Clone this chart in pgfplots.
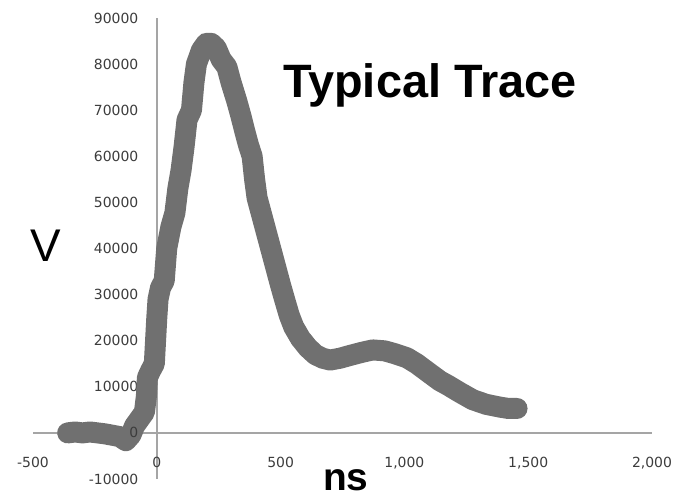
\documentclass[border=0pt]{standalone}
\usepackage{pgfplots}
\pgfplotsset{compat=1.18}
\usepackage{fontspec}
\setmainfont{Liberation Sans}
\newfontfamily\tickfont{DejaVu Sans}
\definecolor{traceg}{RGB}{112,112,112}
\definecolor{axisg}{RGB}{165,165,165}
\definecolor{tickg}{RGB}{60,60,60}
\begin{document}
\begin{tikzpicture}
\useasboundingbox (0,0) rectangle (677bp,496bp);
\begin{axis}[
  at={(33bp,17bp)}, anchor=south west,
  scale only axis, width=619bp, height=461bp,
  xmin=-500, xmax=2000, ymin=-10000, ymax=90000,
  axis lines=middle,
  axis line style={-, draw=axisg, line width=1.8bp},
  major tick length=0pt,
  clip=false,
  scaled x ticks=false, scaled y ticks=false,
  xtick={-500,0,500,1000,1500,2000},
  xticklabels={-500,0,500,{1,000},{1,500},{2,000}},
  ytick={-10000,0,10000,20000,30000,40000,50000,60000,70000,80000,90000},
  yticklabels={-10000,0,10000,20000,30000,40000,50000,60000,70000,80000,90000},
  x tick label style={font=\tickfont\fontsize{14}{16}\selectfont, text=tickg, anchor=center, yshift=-30bp},
  y tick label style={font=\tickfont\fontsize{14}{16}\selectfont, text=tickg, anchor=east, xshift=-15bp},
]
\addplot[color=traceg, line width=21bp, line join=round, line cap=round] coordinates {
(-360,0)(-330,200)(-300,0)(-270,200)(-240,0)(-210,-200)(-180,-500)(-150,-800)(-125,-1700)
(-105,-500)(-90,1500)(-70,3000)(-50,4500)(-42,8000)(-38,12000)(-25,13500)(-10,15000)
(-5,20000)(0,25000)(5,29000)(15,31500)(30,33000)(40,40000)(57,44700)(73,47700)(85,53000)
(98,57000)(110,62000)(122,67900)(140,70000)(150,76000)(160,80000)(180,83000)(200,84500)
(220,84500)(240,83500)(260,81000)(283,79400)(300,76000)(323,72000)(340,68700)(355,65500)
(370,62500)(385,60000)(395,55000)(405,51000)(420,48000)(445,43000)(465,39000)(480,36000)
(500,32000)(517,28800)(535,25500)(553,23000)(580,20500)(610,18500)(640,17000)(670,16200)
(700,15800)(740,16200)(780,16800)(830,17500)(872,18000)(920,17800)(960,17200)(1010,16300)
(1050,15000)(1100,13000)(1143,11300)(1180,10200)(1220,8900)(1276,7200)(1330,6200)
(1385,5600)(1420,5300)(1455,5300)
};
\node[font=\tickfont\fontsize{14}{16}\selectfont, text=tickg, anchor=center, yshift=-30bp] at (axis cs:0,0) {0};
\node[font=\tickfont\fontsize{14}{16}\selectfont, text=tickg, anchor=east, xshift=-15bp, inner sep=0.333em] at (axis cs:0,0) {0};
\end{axis}
\node[anchor=base west, inner sep=0pt, font=\bfseries\fontsize{47}{50}\selectfont] at (283bp,398bp) {Typical Trace};
\node[anchor=base west, inner sep=0pt, font=\bfseries\fontsize{39}{42}\selectfont] at (323bp,6bp) {ns};
\node[anchor=base west, inner sep=0pt, font=\fontsize{46}{50}\selectfont] at (30bp,234bp) {V};
\end{tikzpicture}
\end{document}
